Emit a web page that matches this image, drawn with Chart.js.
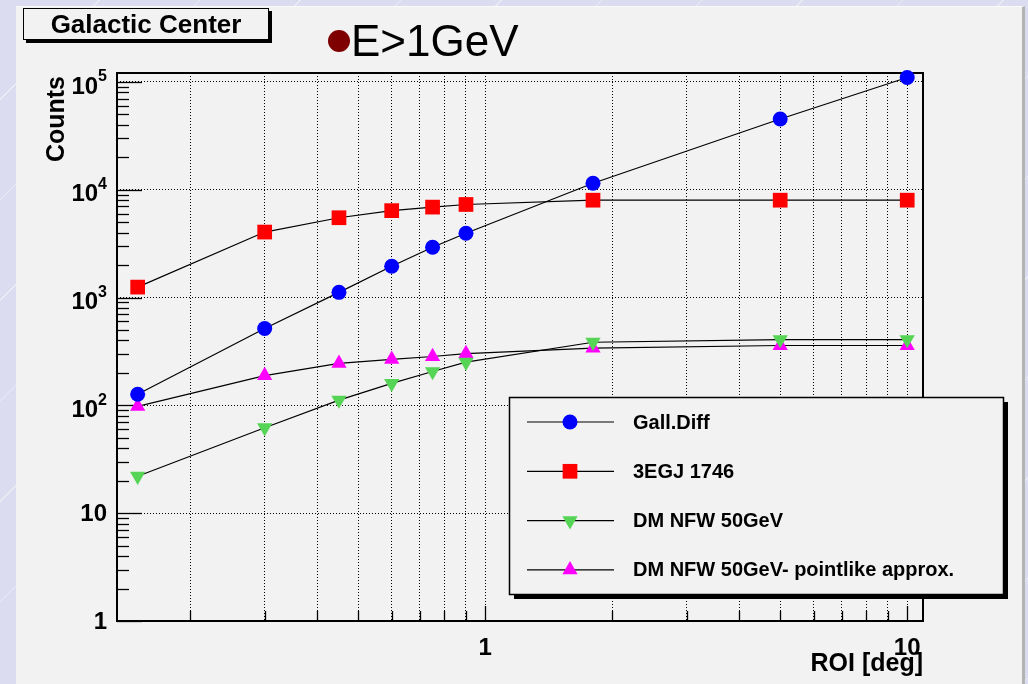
<!DOCTYPE html>
<html>
<head>
<meta charset="utf-8">
<script src="https://cdn.jsdelivr.net/npm/chart.js@4.4.0/dist/chart.umd.min.js"></script>
<style>
  html, body { margin: 0; padding: 0; }
  body {
    width: 1028px; height: 684px; overflow: hidden; position: relative;
    background-color: #dcdcf0;
    background-image: repeating-linear-gradient(135deg, rgba(255,255,255,0) 0 70px, rgba(255,255,255,0.45) 70px 71px);
  }
  #pad {
    position: absolute; left: 16px; top: 6px; width: 1006px; height: 690px;
    background: #f2f2f2; border-right: 3px solid #b4b4b4; border-top: 1px solid #fafafa;
  }
  #chartBox { position: absolute; left: 0; top: 0; width: 1028px; height: 684px; }
  #title {
    position: absolute; left: 23px; top: 8px; width: 244px; height: 30px;
    border: 1.5px solid #000; box-shadow: 3px 3px 0 #000; background: #f2f2f2;
    font: bold 26px "Liberation Sans", Arial, sans-serif; text-align: center; line-height: 31px;
  }
  #energy {
    position: absolute; left: 328px; top: 16px; height: 50px;
    font: 44px "Liberation Sans", Arial, sans-serif; line-height: 50px; color: #000;
  }
  #energy .dot {
    display: inline-block; width: 22px; height: 22px; border-radius: 50%;
    background: #7f0000; vertical-align: middle; margin-right: 1px; position: relative; top: -3px;
  }
</style>
</head>
<body>
<div id="pad"></div>
<div id="chartBox"><canvas id="roiChart" width="1028" height="684"></canvas></div>
<div id="title">Galactic Center</div>
<div id="energy"><span class="dot"></span>E&gt;1GeV</div>
<script>
// ROI radius (deg)
const roi = [0.15, 0.3, 0.45, 0.6, 0.75, 0.9, 1.8, 5, 10];
// counts per series
const gallDiff   = [127, 517, 1117, 1950, 2930, 3950, 11500, 45300, 110000];
const egj1746    = [1250, 4050, 5500, 6400, 6900, 7300, 8000, 8000, 8000];
const dmNfw      = [22, 62, 112, 160, 206, 252, 385, 408, 408];
const dmNfwPoint = [98, 189, 245, 267, 284, 302, 339, 359, 359];
const seriesNames = ["Gall.Diff", "3EGJ 1746", "DM NFW 50GeV", "DM NFW 50GeV- pointlike approx."];

const xTicks = [0.2, 0.3, 0.4, 0.5, 0.6, 0.7, 0.8, 0.9, 1, 2, 3, 4, 5, 6, 7, 8, 9, 10];
const xMajor = [1, 10];
const xTickLabels = ["1", "10"];
const yTicks = [1, 10, 100, 1000, 10000, 100000];
const yTickLabels = ["1", "10", "10^2", "10^3", "10^4", "10^5"];
const xTitle = "ROI [deg]";
const yTitle = "Counts";

const FONT = '"Liberation Sans", Arial, Helvetica, sans-serif';

function mkSet(label, values, style, rotation, radius, color) {
    return {
        label: label,
        data: roi.map((x, i) => ({ x: x, y: values[i] })),
        showLine: true,
        borderColor: "#000",
        borderWidth: 1.2,
        tension: 0,
        pointStyle: style,
        pointRotation: rotation,
        pointRadius: radius,
        pointBackgroundColor: color,
        pointBorderColor: color,
        pointBorderWidth: 0,
        clip: false
    };
}

const datasets = [
    mkSet(seriesNames[0], gallDiff, "circle", 0, 7.5, "#0000ff"),
    mkSet(seriesNames[1], egj1746, "rect", 0, 10.4, "#ff0000"),
    mkSet(seriesNames[2], dmNfw, "triangle", 180, 8.8, "#55d455"),
    mkSet(seriesNames[3], dmNfwPoint, "triangle", 0, 8.8, "#ff00ff")
];

function line(ctx, x1, y1, x2, y2) {
    ctx.beginPath(); ctx.moveTo(x1, y1); ctx.lineTo(x2, y2); ctx.stroke();
}

// frame and inner tick marks, drawn under the markers
const framePlugin = {
    id: "rootFrame",
    beforeDatasetsDraw(chart) {
        const ctx = chart.ctx, a = chart.chartArea;
        const xs = chart.scales.x, ys = chart.scales.y;
        ctx.save();
        ctx.strokeStyle = "#000";
        ctx.lineWidth = 1.3;
        yTicks.forEach((v, i) => {
            const py = Math.round(ys.getPixelForValue(v)) + 0.5;
            line(ctx, a.left, py, a.left + 25, py);
            if (i < yTicks.length - 1) {
                for (let m = 2; m <= 9; m++) {
                    const my = Math.round(ys.getPixelForValue(v * m)) + 0.5;
                    line(ctx, a.left, my, a.left + 12, my);
                }
            }
        });
        xTicks.forEach(v => {
            const px = Math.round(xs.getPixelForValue(v)) + 0.5;
            const len = xMajor.includes(v) ? 15 : 10;
            line(ctx, px, a.bottom, px, a.bottom - len);
        });
        ctx.lineWidth = 2;
        ctx.strokeRect(Math.round(a.left), Math.round(a.top), Math.round(a.right - a.left), Math.round(a.bottom - a.top));
        ctx.restore();
    },
    afterDraw(chart) {
        const ctx = chart.ctx, a = chart.chartArea;
        const xs = chart.scales.x, ys = chart.scales.y;
        ctx.save();
        ctx.fillStyle = "#000";
        // y tick labels with superscript exponents
        yTickLabels.forEach((lab, i) => {
            const py = ys.getPixelForValue(yTicks[i]);
            const parts = lab.split("^");
            const right = 107;
            if (parts.length === 1) {
                ctx.font = "bold 24px " + FONT;
                ctx.textAlign = "right"; ctx.textBaseline = "middle";
                ctx.fillText(parts[0], right, py + 1);
            } else {
                ctx.font = "bold 16px " + FONT;
                const ew = ctx.measureText(parts[1]).width;
                ctx.textAlign = "right"; ctx.textBaseline = "middle";
                ctx.fillText(parts[1], right, py - 5);
                ctx.font = "bold 24px " + FONT;
                ctx.fillText(parts[0], right - ew, py + 5);
            }
        });
        // x tick labels
        ctx.font = "bold 24px " + FONT;
        ctx.textAlign = "center"; ctx.textBaseline = "middle";
        xMajor.forEach((v, i) => {
            ctx.fillText(xTickLabels[i], xs.getPixelForValue(v), a.bottom + 27);
        });
        // axis titles
        ctx.font = "bold 25px " + FONT;
        ctx.textAlign = "right"; ctx.textBaseline = "alphabetic";
        ctx.fillText(xTitle, a.right, a.bottom + 50);
        ctx.translate(64, a.top + 3);
        ctx.rotate(-Math.PI / 2);
        ctx.fillText(yTitle, 0, 0);
        ctx.restore();

        // legend box
        const L = { left: 509, top: 397, right: 1003, bottom: 594 };
        ctx.save();
        ctx.fillStyle = "#000";
        ctx.fillRect(L.left + 5, L.top + 5, L.right - L.left, L.bottom - L.top);
        ctx.fillStyle = "#f2f2f2";
        ctx.fillRect(L.left, L.top, L.right - L.left, L.bottom - L.top);
        ctx.strokeStyle = "#000";
        ctx.lineWidth = 1.5;
        ctx.strokeRect(L.left + 0.5, L.top + 0.5, L.right - L.left, L.bottom - L.top);
        chart.data.datasets.forEach((ds, i) => {
            const y = 422 + i * 49.3;
            ctx.strokeStyle = "#000"; ctx.lineWidth = 1.2;
            line(ctx, 527, y, 614, y);
            ctx.fillStyle = ds.pointBackgroundColor;
            Chart.helpers.drawPoint(ctx, { pointStyle: ds.pointStyle, rotation: ds.pointRotation, radius: ds.pointRadius, borderWidth: 0 }, 570, y);
            ctx.fillStyle = "#000";
            ctx.font = "bold 20px " + FONT;
            ctx.textAlign = "left"; ctx.textBaseline = "middle";
            ctx.fillText(ds.label, 633, y + 1);
        });
        ctx.restore();
    }
};

const ctx = document.getElementById("roiChart").getContext("2d");
new Chart(ctx, {
    type: "scatter",
    data: { datasets: datasets },
    options: {
        responsive: false,
        animation: false,
        events: [],
        layout: { padding: { left: 117, right: 105, top: 73, bottom: 63 } },
        plugins: { legend: { display: false }, tooltip: { enabled: false } },
        scales: {
            x: {
                type: "logarithmic", min: 0.134, max: 10.9,
                afterBuildTicks: s => { s.ticks = xTicks.map(v => ({ value: v })); },
                ticks: { display: false },
                grid: { color: "#000", lineWidth: 1, drawTicks: false },
                border: { display: false, dash: [1, 2] }
            },
            y: {
                type: "logarithmic", min: 1, max: 121000,
                afterBuildTicks: s => { s.ticks = yTicks.map(v => ({ value: v })); },
                ticks: { display: false },
                grid: { color: "#000", lineWidth: 1, drawTicks: false },
                border: { display: false, dash: [1, 2] }
            }
        }
    },
    plugins: [framePlugin]
});
</script>
</body>
</html>
